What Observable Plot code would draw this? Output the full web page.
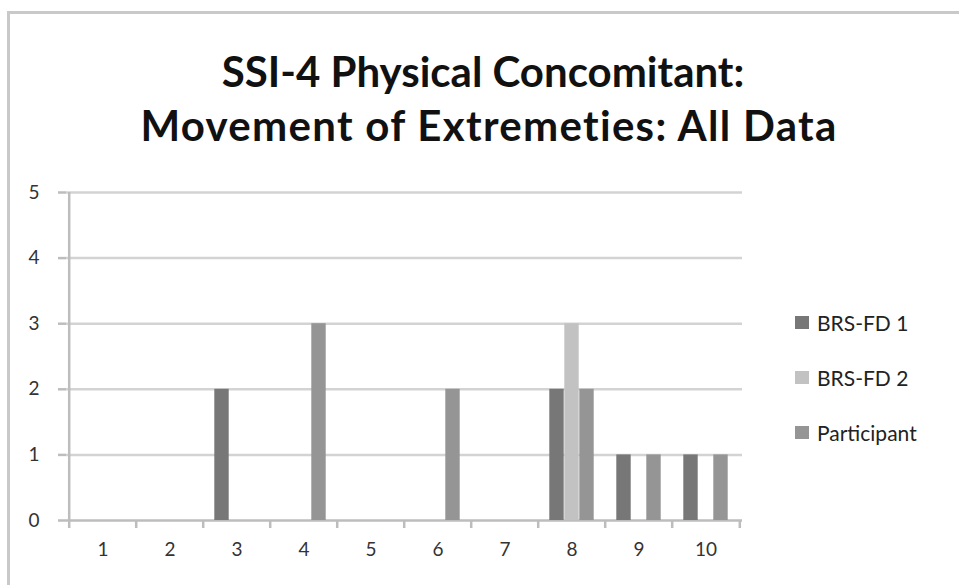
<!DOCTYPE html>
<html>
<head>
<meta charset="utf-8">
<script src="https://cdn.jsdelivr.net/npm/d3@7"></script>
<script src="https://cdn.jsdelivr.net/npm/@observablehq/plot@0.6"></script>
<style>
  html, body { margin: 0; padding: 0; background: #fff; }
  #wrap { position: relative; width: 959px; height: 585px; overflow: hidden; font-family: Lato, "Open Sans", sans-serif; }
  #border { position: absolute; left: 7px; top: 11px; right: -5px; bottom: -5px; border-left: 3px solid #c9c9c9; border-top: 3px solid #c9c9c9; }
  #chart { position: absolute; left: 0; top: 0; }
  #title { position: absolute; left: 0; width: 966px; top: 44px; text-align: center; font-weight: bold; font-size: 42px; line-height: 54px; color: #111; }
  #title .l2 { letter-spacing: 1.3px; padding-left: 12px; }
  #legend { position: absolute; left: 795px; top: 295px; font-size: 21px; color: #222; }
  .item { display: flex; align-items: center; height: 55px; margin-top: 0; }
  .item .sw { width: 14px; height: 13px; margin-right: 8px; }
</style>
</head>
<body>
<div id="wrap">
  <div id="border"></div>
  <div id="chart"></div>
  <div id="title"></div>
  <div id="legend"></div>
</div>
<script>
const titleLines = ["SSI-4 Physical Concomitant:", "Movement of Extremeties: All Data"];
const categories = ["1", "2", "3", "4", "5", "6", "7", "8", "9", "10"];
const seriesNames = ["BRS-FD 1", "BRS-FD 2", "Participant"];
const brsFd1 = [0, 0, 2, 0, 0, 0, 0, 2, 1, 1];
const brsFd2 = [0, 0, 0, 0, 0, 0, 0, 3, 0, 0];
const participant = [0, 0, 0, 3, 0, 2, 0, 2, 1, 1];
const yTicks = [0, 1, 2, 3, 4, 5];
const colors = ["#777777", "#c2c2c2", "#959595"];

const seriesValues = [brsFd1, brsFd2, participant];
const data = categories.flatMap((c, i) => seriesNames.map((s, j) => ({cat: c, series: s, value: seriesValues[j][i]})));

const W = 959, H = 585;
const mL = 66, mR = 217, mT = 192, mB = 65;
const bw = (W - mL - mR) / categories.length;
const barW = 15;

const barMarks = seriesNames.map((s, j) => {
  const insetLeft = bw / 2 - 1.5 * barW + j * barW;
  const insetRight = bw - barW - insetLeft;
  return Plot.barY(data.filter(d => d.series === s && d.value > 0), {
    x: "cat", y: "value", fill: colors[j], insetLeft, insetRight
  });
});

const plot = Plot.plot({
  width: W, height: H,
  marginLeft: mL, marginRight: mR, marginTop: mT, marginBottom: mB,
  style: {fontFamily: "Lato, 'Open Sans', sans-serif", background: "transparent"},
  x: {domain: categories, padding: 0, axis: null, label: null},
  y: {domain: [0, 5], axis: null, label: null},
  marks: [
    Plot.ruleY(yTicks.filter(v => v > 0), {stroke: "#d3d3d3", strokeWidth: 2.5}),
    Plot.ruleY([0], {stroke: "#bdbdbd", strokeWidth: 2.5}),
    Plot.ruleX([categories[0]], {dx: -bw / 2, y1: 0, y2: 5, stroke: "#bdbdbd", strokeWidth: 2.5}),
    Plot.axisY({ticks: yTicks, tickFormat: "d", label: null, tickSize: 8, tickPadding: 19, stroke: "#bdbdbd", strokeWidth: 2.5, fontSize: 19, fill: "#333"}),
    Plot.axisX(categories, {tickSize: 8, dx: -bw / 2, tickFormat: () => "", label: null, stroke: "#bdbdbd", strokeWidth: 2.5}),
    Plot.axisX([categories[categories.length - 1]], {tickSize: 8, dx: bw / 2, tickFormat: () => "", label: null, stroke: "#bdbdbd", strokeWidth: 2.5}),
    Plot.axisX(categories, {tickSize: 0, tickPadding: 22, label: null, fontSize: 19, fill: "#333"}),
    ...barMarks
  ]
});
document.getElementById("chart").appendChild(plot);

document.getElementById("title").innerHTML = titleLines.map((t, i) => `<div class="l${i + 1}">${t}</div>`).join("");
document.getElementById("legend").innerHTML = seriesNames.map((s, j) =>
  `<div class="item"><span class="sw" style="background:${colors[j]}"></span><span>${s}</span></div>`).join("");
</script>
</body>
</html>
